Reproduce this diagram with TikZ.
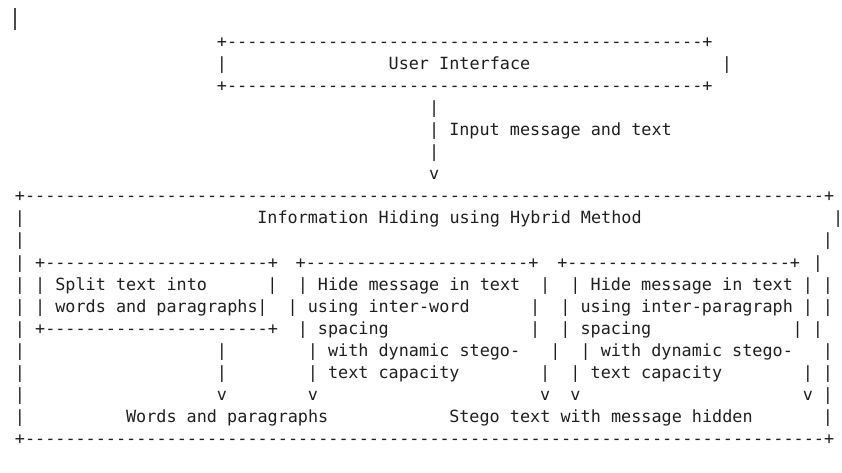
\documentclass[tikz,border=0pt]{standalone}
\usepackage{fontspec}
\setmonofont{DejaVu Sans Mono}
\ExplSyntaxOn
\NewDocumentCommand\dsh{m}{\prg_replicate:nn{#1}{-}}
\ExplSyntaxOff
\newcommand\asc[4]{\node[asc] (#1) at ({14.95+10.1*(#2)},{42.7+22.08*(#3)+4.5}) {#4};}
\tikzset{
  asc/.style={anchor=base west, inner sep=0pt, outer sep=0pt,
    font=\ttfamily\fontsize{16.8}{20}\selectfont, text=black!88},
  cursor/.style={draw=black!70, line width=1.1pt}
}
\begin{document}
\begin{tikzpicture}[x=1pt,y=-1pt]
\useasboundingbox (0,0) rectangle (842,473);
\draw[cursor] (15,8) -- (15,30);
% User interface box
\asc{uiTop}{20}{0}{+\dsh{47}+}
\asc{uiL}{20}{1}{|}
\asc{ui}{37}{1}{User Interface}
\asc{uiR}{70}{1}{|}
\asc{uiBot}{20}{2}{+\dsh{47}+}
% arrow
\asc{a1}{41}{3}{|}
\asc{a2}{41}{4}{|}
\asc{inlab}{43}{4}{Input message and text}
\asc{a3}{41}{5}{|}
\asc{a4}{41}{6}{v}
% big box
\asc{bigTop}{0}{7}{+\dsh{79}+}
\asc{l8}{0}{8}{|}
\asc{ihh}{24}{8}{Information Hiding using Hybrid Method}
\asc{r8}{81}{8}{|}
\asc{l9}{0}{9}{|}
\asc{r9}{80}{9}{|}
% row 10
\asc{l10}{0}{10}{|}
\asc{b1t}{2}{10}{+\dsh{22}+}
\asc{b2t}{27.8}{10}{+\dsh{22}+}
\asc{b3t}{53.7}{10}{+\dsh{22}+}
\asc{r10}{79}{10}{|}
% row 11
\asc{l11}{0}{11}{|}
\asc{b1l11}{2}{11}{|}
\asc{s1}{4}{11}{Split text into}
\asc{b1r11}{25}{11}{|}
\asc{b2l11}{28}{11}{|}
\asc{h1}{30}{11}{Hide message in text}
\asc{b2r11}{52}{11}{|}
\asc{b3l11}{55}{11}{|}
\asc{h2}{57}{11}{Hide message in text}
\asc{b3r11}{78}{11}{|}
\asc{r11}{80}{11}{|}
% row 12
\asc{l12}{0}{12}{|}
\asc{b1l12}{2}{12}{|}
\asc{s2}{4}{12}{words and paragraphs}
\asc{b1r12}{24}{12}{|}
\asc{b2l12}{27}{12}{|}
\asc{u1}{29}{12}{using inter-word}
\asc{b2r12}{51}{12}{|}
\asc{b3l12}{54}{12}{|}
\asc{u2}{56}{12}{using inter-paragraph}
\asc{b3r12}{78}{12}{|}
\asc{r12}{80}{12}{|}
% row 13
\asc{l13}{0}{13}{|}
\asc{b1b}{2}{13}{+\dsh{22}+}
\asc{b2l13}{28}{13}{|}
\asc{sp1}{30}{13}{spacing}
\asc{b2r13}{51}{13}{|}
\asc{b3l13}{54}{13}{|}
\asc{sp2}{56}{13}{spacing}
\asc{b3r13}{77}{13}{|}
\asc{r13}{79}{13}{|}
% row 14
\asc{l14}{0}{14}{|}
\asc{c1a}{20}{14}{|}
\asc{b2l14}{29}{14}{|}
\asc{w1}{31}{14}{with dynamic stego-}
\asc{b2r14}{53}{14}{|}
\asc{b3l14}{56}{14}{|}
\asc{w2}{58}{14}{with dynamic stego-}
\asc{r14}{80}{14}{|}
% row 15
\asc{l15}{0}{15}{|}
\asc{c1b}{20}{15}{|}
\asc{b2l15}{29}{15}{|}
\asc{t1}{31}{15}{text capacity}
\asc{b2r15}{52}{15}{|}
\asc{b3l15}{55}{15}{|}
\asc{t2}{57}{15}{text capacity}
\asc{b3r15}{78}{15}{|}
\asc{r15}{80}{15}{|}
% row 16
\asc{l16}{0}{16}{|}
\asc{v1}{20}{16}{v}
\asc{v2}{29}{16}{v}
\asc{v3}{52}{16}{v}
\asc{v4}{55}{16}{v}
\asc{v5}{78}{16}{v}
\asc{r16}{80}{16}{|}
% row 17
\asc{l17}{0}{17}{|}
\asc{wp}{11}{17}{Words and paragraphs}
\asc{st}{43}{17}{Stego text with message hidden}
\asc{r17}{80}{17}{|}
% bottom
\asc{bigBot}{0}{18}{+\dsh{79}+}
\end{tikzpicture}
\end{document}
